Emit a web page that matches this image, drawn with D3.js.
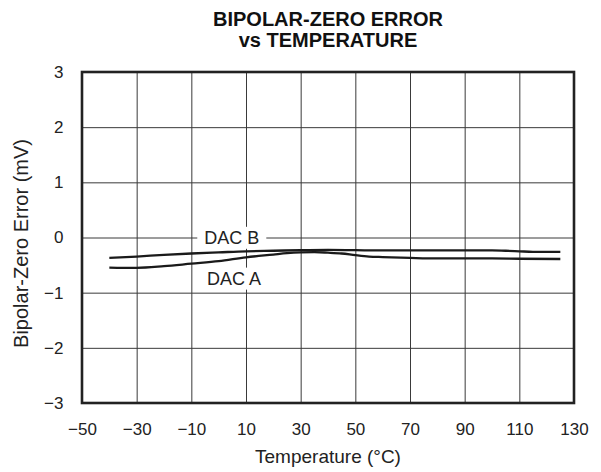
<!DOCTYPE html>
<html>
<head>
<meta charset="utf-8">
<script src="https://cdn.jsdelivr.net/npm/d3@7"></script>
<style>
  html, body { margin: 0; padding: 0; background: #fff; }
  svg { display: block; font-family: "Liberation Sans", Arial, Helvetica, sans-serif; }
</style>
</head>
<body>
<svg id="chart" width="601" height="472"></svg>
<script>
// ---- data ----
const titleLines = ["BIPOLAR-ZERO ERROR", "vs TEMPERATURE"];
const xLabel = "Temperature (°C)";
const yLabel = "Bipolar-Zero Error (mV)";
const xTicks = [-50, -30, -10, 10, 30, 50, 70, 90, 110, 130];
const yTicks = [-3, -2, -1, 0, 1, 2, 3];

const dacBTemps = [-40, -30, -20, -10, 0, 10, 20, 30, 40, 50, 60, 70, 80, 90, 100, 105, 110, 115, 125];
const dacBValues = [-0.37, -0.345, -0.315, -0.29, -0.27, -0.25, -0.24, -0.23, -0.225, -0.23, -0.235, -0.235, -0.235, -0.235, -0.235, -0.24, -0.25, -0.26, -0.26];

const dacATemps = [-40, -35, -30, -20, -10, 0, 10, 20, 25, 30, 35, 40, 45, 50, 55, 60, 70, 80, 90, 100, 110, 125];
const dacAValues = [-0.545, -0.55, -0.55, -0.52, -0.475, -0.43, -0.36, -0.31, -0.285, -0.27, -0.265, -0.275, -0.29, -0.32, -0.345, -0.355, -0.37, -0.38, -0.38, -0.38, -0.385, -0.39];

const seriesLabels = [
  { text: "DAC B", t: 4.8, v: 0.0 },
  { text: "DAC A", t: 5.6, v: -0.74 }
];

// ---- layout ----
const margin = { left: 82, top: 72, right: 27, bottom: 69 };
const W = 601, H = 472;
const iw = W - margin.left - margin.right;
const ih = H - margin.top - margin.bottom;

const svg = d3.select("#chart");
const g = svg.append("g").attr("transform", `translate(${margin.left},${margin.top})`);

const x = d3.scaleLinear().domain([-50, 130]).range([0, iw]);
const y = d3.scaleLinear().domain([-3, 3]).range([ih, 0]);
const fmt = d => String(d).replace("-", "\u2212");

// grid + tick labels
const xAxis = g.append("g").attr("transform", `translate(0,${ih})`)
  .call(d3.axisBottom(x).tickValues(xTicks).tickSizeInner(-ih).tickSizeOuter(0).tickPadding(20).tickFormat(fmt));
const yAxis = g.append("g")
  .call(d3.axisLeft(y).tickValues(yTicks).tickSizeInner(-iw).tickSizeOuter(0).tickPadding(18.5).tickFormat(fmt));
[xAxis, yAxis].forEach(a => {
  a.select(".domain").remove();
  a.selectAll("line").attr("stroke", "#3a3a3a").attr("stroke-width", 1);
  a.selectAll("text").attr("fill", "#222").style("font-size", "17px")
    .style("font-family", '"Liberation Sans", Arial, Helvetica, sans-serif');
});

// series labels with white background
const labelG = g.append("g");
seriesLabels.forEach(l => {
  const cx = x(l.t), cy = y(l.v);
  const t = labelG.append("text")
    .attr("x", cx).attr("y", cy).attr("dy", "0.35em")
    .attr("text-anchor", "middle")
    .style("font-size", "18px").attr("fill", "#222").text(l.text);
  const bb = t.node().getBBox();
  labelG.insert("rect", "text")
    .attr("x", bb.x - 7).attr("y", bb.y - 1)
    .attr("width", bb.width + 14).attr("height", bb.height + 2)
    .attr("fill", "#fff");
});

// lines
const line = d3.line().x(d => x(d[0])).y(d => y(d[1])).curve(d3.curveMonotoneX);
const series = [
  dacBTemps.map((t, i) => [t, dacBValues[i]]),
  dacATemps.map((t, i) => [t, dacAValues[i]])
];
g.selectAll("path.series").data(series).join("path")
  .attr("class", "series")
  .attr("d", line)
  .attr("fill", "none")
  .attr("stroke", "#1a1a1a")
  .attr("stroke-width", 2.3)
  .attr("stroke-linejoin", "round");

// frame
g.append("rect").attr("x", 0).attr("y", 0).attr("width", iw).attr("height", ih)
  .attr("fill", "none").attr("stroke", "#222").attr("stroke-width", 2.6);

// title
const title = svg.append("text").attr("text-anchor", "middle")
  .style("font-size", "20px").style("font-weight", "bold").attr("fill", "#111");
titleLines.forEach((s, i) => {
  title.append("tspan").attr("x", margin.left + iw / 2).attr("y", 26 + i * 21).text(s);
});

// axis titles
svg.append("text").attr("x", margin.left + iw / 2).attr("y", 463)
  .attr("text-anchor", "middle").style("font-size", "19px").attr("fill", "#222").text(xLabel);
svg.append("text").attr("transform", `translate(28,${margin.top + ih / 2 + 6}) rotate(-90)`)
  .attr("text-anchor", "middle").style("font-size", "20px").attr("fill", "#222").text(yLabel);
</script>
</body>
</html>
